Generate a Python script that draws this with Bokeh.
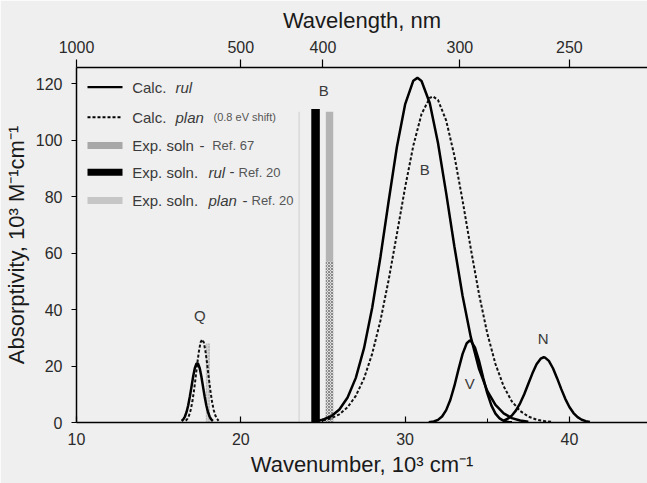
from bokeh.plotting import figure
from bokeh.models import LinearAxis, FixedTicker, CustomJSTickFormatter, Label, Range1d
from bokeh.core.properties import value
from bokeh.embed import file_html
from bokeh.resources import INLINE

# ---------------- data ----------------
# Calculated spectrum, "rul" (solid)
rul_Q_x = [16.4, 16.5, 16.6, 16.7, 16.8, 16.9, 17.0, 17.1, 17.2, 17.3, 17.35, 17.4, 17.5, 17.6, 17.7, 17.8, 17.9, 18.0, 18.1, 18.2, 18.3]
rul_Q_y = [0.53, 1.10, 2.11, 3.74, 6.11, 9.19, 12.7, 16.3, 19.2, 20.8, 21.0, 20.8, 19.2, 16.3, 12.7, 9.19, 6.11, 3.74, 2.11, 1.10, 0.53]
rul_B_x = [24.5, 25.0, 25.5, 26.0, 26.5, 27.0, 27.5, 28.0, 28.5, 29.0, 29.5, 30.0, 30.5, 30.75, 31.0, 31.5, 32.0, 32.5, 33.0, 33.5, 34.0, 34.5, 35.0, 35.5, 36.0, 36.5, 37.0, 37.5]
rul_B_y = [0.41, 0.99, 2.21, 4.58, 8.83, 15.8, 26.3, 40.7, 58.6, 78.4, 97.5, 112.6, 121.0, 122.0, 120.9, 113.1, 99.0, 81.2, 62.3, 44.8, 30.2, 19.0, 11.2, 6.2, 3.2, 1.55, 0.71, 0.30]
rul_V_x = [31.44, 31.75, 32.0, 32.25, 32.5, 32.75, 33.0, 33.25, 33.5, 33.75, 33.94, 34.0, 34.25, 34.5, 34.75, 35.0, 35.25, 35.5, 35.75, 36.0, 36.25, 36.5]
rul_V_y = [0.10, 0.36, 0.93, 2.14, 4.37, 7.96, 12.94, 18.8, 24.3, 28.06, 29.0, 28.9, 26.6, 21.8, 15.9, 10.4, 6.05, 3.14, 1.46, 0.60, 0.22, 0.07]
rul_N_x = [36.0, 36.25, 36.5, 36.75, 37.0, 37.25, 37.5, 37.75, 38.0, 38.25, 38.44, 38.5, 38.75, 39.0, 39.25, 39.5, 39.75, 40.0, 40.25, 40.5, 40.75, 41.0, 41.25]
rul_N_y = [0.69, 1.36, 2.50, 4.28, 6.79, 10.0, 13.7, 17.4, 20.6, 22.6, 23.1, 23.05, 21.8, 19.2, 15.7, 11.9, 8.38, 5.49, 3.34, 1.88, 0.99, 0.48, 0.22]

# Calculated spectrum, "plan" (dashed)
plan_Q_x = [16.65, 16.75, 16.85, 16.95, 17.05, 17.15, 17.25, 17.35, 17.45, 17.55, 17.65, 17.75, 17.85, 17.95, 18.05, 18.15, 18.25, 18.35, 18.45, 18.55, 18.65]
plan_Q_y = [0.62, 1.29, 2.49, 4.44, 7.33, 11.2, 15.9, 20.8, 25.2, 28.3, 29.4, 28.3, 25.2, 20.8, 15.9, 11.2, 7.33, 4.44, 2.49, 1.29, 0.62]
plan_B_x = [25.0, 25.5, 26.0, 26.5, 27.0, 27.5, 28.0, 28.5, 29.0, 29.5, 30.0, 30.5, 31.0, 31.5, 31.7, 32.0, 32.5, 33.0, 33.5, 34.0, 34.5, 35.0, 35.5, 36.0, 36.5, 37.0, 37.5, 38.0, 38.5, 39.0]
plan_B_y = [0.71, 1.48, 2.90, 5.38, 9.43, 15.6, 24.4, 36.1, 50.5, 66.7, 83.2, 98.0, 109.2, 114.9, 115.4, 114.2, 106.9, 94.4, 78.5, 61.5, 45.4, 31.6, 20.7, 12.8, 7.44, 4.08, 2.11, 1.03, 0.47, 0.20]

# Experimental band positions (10^3 cm^-1) and absorptivities
exp_ref67_x = [23.55]
exp_ref67_top = [110]
exp_rul_x = [24.55]
exp_rul_top = [111]
exp_plan_x = [25.4]
exp_plan_top = [110]
exp_plan_hatch_top = [57]
exp_plan_Q_x = [18.0]
exp_plan_Q_top = [28]

# Band labels
band_labels = ["B", "B", "Q", "V", "N"]
band_label_x = [25.05, 31.2, 17.5, 33.94, 38.4]
band_label_y = [117.5, 89.4, 37.9, 13.7, 29.6]

# Axes
x_ticks = [10, 20, 30, 40]
y_ticks = [0, 20, 40, 60, 80, 100, 120]
wavelength_ticks_nm = [1000, 500, 400, 300, 250]

legend_rows = [
    [("Calc.", 15, "normal"), ("rul", 15, "italic")],
    [("Calc.", 15, "normal"), ("plan", 15, "italic"), ("(0.8 eV shift)", 11, "normal")],
    [("Exp. soln", 15, "normal"), ("-", 15, "normal"), ("Ref. 67", 13, "normal")],
    [("Exp. soln.", 15, "normal"), ("rul", 15, "italic"), ("-", 15, "normal"), ("Ref. 20", 13, "normal")],
    [("Exp. soln.", 15, "normal"), ("plan", 15, "italic"), ("-", 15, "normal"), ("Ref. 20", 13, "normal")],
]

# ---------------- layout ----------------
W, H = 647, 483
FL, FT, FB = 76, 67, 422
X0 = 10.0
PPX = 16.43
PPY = 2.825
x_end = X0 + (W - FL) / PPX
y_end = (FB - FT) / PPY

def xd(px):
    return X0 + (px - FL) / PPX

def yd(py):
    return (FB - py) / PPY

FONT = "Liberation Sans"
BG = "#efefef"

p = figure(width=W, height=H, output_backend="svg", toolbar_location=None,
           x_range=Range1d(X0, x_end), y_range=Range1d(0, y_end),
           min_border_left=FL, min_border_top=FT, min_border_bottom=H - FB,
           min_border_right=0, background_fill_color=BG, border_fill_color=BG)
p.outline_line_color = None
p.xgrid.visible = False
p.ygrid.visible = False

# bottom axis
xa = p.xaxis[0]
xa.ticker = FixedTicker(ticks=x_ticks, minor_ticks=[25, 35])
xa.axis_label = "Wavenumber, 10³ cm⁻¹"
xa.major_tick_in = 6
xa.major_tick_out = 0
xa.minor_tick_in = 4
xa.minor_tick_out = 0
xa.major_label_standoff = 10
xa.axis_label_standoff = 4

# left axis
ya = p.yaxis[0]
ya.ticker = FixedTicker(ticks=y_ticks)
ya.axis_label = "Absorptivity, 10³ M⁻¹cm⁻¹"
ya.major_tick_in = 0
ya.major_tick_out = 5
ya.minor_tick_in = 0
ya.minor_tick_out = 0
ya.major_label_standoff = 9
ya.axis_label_standoff = 4

# top axis (wavelength)
top = LinearAxis(ticker=FixedTicker(ticks=[1e4 / w for w in wavelength_ticks_nm]),
                 formatter=CustomJSTickFormatter(code="return Math.round(10000 / tick).toString();"),
                 axis_label="Wavelength, nm")
top.major_tick_in = 0
top.major_tick_out = 8
top.minor_tick_in = 0
top.minor_tick_out = 0
top.major_label_standoff = 7
top.axis_label_standoff = 5
p.add_layout(top, "above")

for ax in (xa, ya, top):
    ax.axis_line_color = "black"
    ax.axis_line_width = 1.5
    ax.major_tick_line_color = "black"
    ax.major_tick_line_width = 1.2
    ax.minor_tick_line_color = "black"
    ax.major_label_text_font = FONT
    ax.major_label_text_font_size = "16px"
    ax.major_label_text_color = "#2a2a2a"
    ax.axis_label_text_font = FONT
    ax.axis_label_text_font_size = "22px"
    ax.axis_label_text_font_style = "normal"
    ax.axis_label_text_color = "#1a1a1a"

# experimental bars
p.vbar(x=exp_ref67_x, top=exp_ref67_top, bottom=0, width=0.08, fill_color="#d6d6d6", line_color=None)
p.vbar(x=exp_plan_Q_x, top=exp_plan_Q_top, bottom=0, width=0.25, fill_color="#d2d2d2", line_color=None,
       hatch_pattern="dot", hatch_color="#9a9a9a", hatch_scale=3)
p.vbar(x=exp_plan_x, top=exp_plan_top, bottom=0, width=0.45, fill_color="#b4b4b4", line_color=None)
p.vbar(x=exp_plan_x, top=exp_plan_hatch_top, bottom=0, width=0.45, fill_color="#dcdcdc", line_color=None,
       hatch_pattern="x", hatch_color="#8a8a8a", hatch_scale=3)
p.vbar(x=exp_rul_x, top=exp_rul_top, bottom=0, width=0.52, fill_color="black", line_color=None)

# calculated curves
for xs, ys in ((plan_Q_x, plan_Q_y), (plan_B_x, plan_B_y)):
    p.line(xs, ys, line_color="#111111", line_width=2, line_dash="3 2")
for xs, ys in ((rul_Q_x, rul_Q_y), (rul_B_x, rul_B_y), (rul_V_x, rul_V_y), (rul_N_x, rul_N_y)):
    p.line(xs, ys, line_color="black", line_width=2.5)

# band labels
p.text(x=band_label_x, y=band_label_y, text=band_labels, text_align="center", text_baseline="middle",
       text_font=value(FONT), text_font_size="15px", text_color="#3a3a3a")

# legend (hand-built to allow mixed italic/small text)
row_py = [86.7, 116.7, 145.0, 171.7, 200.0]
seg_px = [
    [131.7, 175.0],
    [131.7, 175.0, 213.0],
    [131.7, 199.0, 211.7],
    [131.7, 208.0, 229.0, 238.0],
    [131.7, 208.0, 242.0, 251.0],
]
swatches = [
    dict(line_color="black", line_width=2.2),
    dict(line_color="black", line_width=2.0, line_dash="3 2"),
    dict(line_color="#a8a8a8", line_width=7),
    dict(line_color="black", line_width=7),
    dict(line_color="#c6c6c6", line_width=7),
]
for i, py in enumerate(row_py):
    p.line([xd(87), xd(122)], [yd(py), yd(py)], **swatches[i])
    for (txt, size, style), px in zip(legend_rows[i], seg_px[i]):
        p.add_layout(Label(x=xd(px), y=yd(py), text=txt, text_font=FONT, text_font_size=f"{size}px",
                           text_font_style=style, text_color="#3a3a3a" if size >= 15 else "#555555",
                           text_baseline="middle", text_align="left"))

open("out.html", "w").write(file_html(p, INLINE))
